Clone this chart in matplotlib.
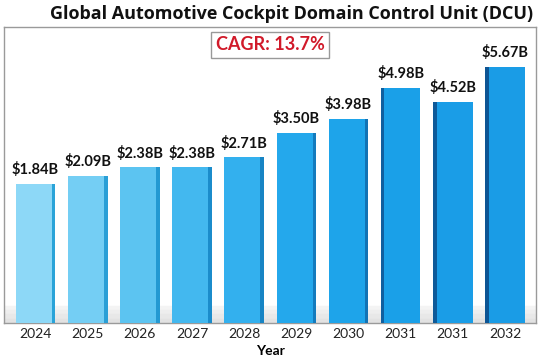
import matplotlib
matplotlib.use("Agg")
import matplotlib.pyplot as plt

years = ["2024", "2025", "2026", "2027", "2028", "2029", "2030", "2031", "2031", "2032"]
values = [1.84, 2.09, 2.38, 2.38, 2.71, 3.50, 3.98, 4.98, 4.52, 5.67]
labels = ["$1.84B", "$2.09B", "$2.38B", "$2.38B", "$2.71B", "$3.50B", "$3.98B", "$4.98B", "$4.52B", "$5.67B"]
title = "Global Automotive Cockpit Domain Control Unit (DCU)"
cagr_text = "CAGR: 13.7%"

colors = ["#8dd8f7", "#74cef4", "#5cc4f1", "#43b8ef", "#33b0ee", "#24a8ec",
          "#1ea4ea", "#1aa0e8", "#1a9de7", "#1a9ce6"]
side_colors = ["#2aa3d8", "#2a9fd6", "#2399d2", "#1b8ccb", "#1784c4", "#147bbd",
               "#1273b5", "#0f5f9f", "#0e5a99", "#0d5594"]

plt.rcParams['font.family'] = ['Lato', 'DejaVu Sans']

fig = plt.figure(figsize=(5.4, 3.6), dpi=100)
ax = fig.add_axes([0.008, 0.103, 0.985, 0.822])

ylo, yhi = -2.72, 6.98
x = list(range(len(years)))
w = 0.76
ax.bar(x, [v - ylo for v in values], bottom=ylo, width=w, color=colors, zorder=3)

# side faces for 3D look
for i, (xi, v) in enumerate(zip(x, values)):
    sw = 0.07
    sx = xi + w / 2 - sw if i < 7 else xi - w / 2
    ax.bar(sx, v - ylo, bottom=ylo, width=sw, align='edge', color=side_colors[i], zorder=4)

# floor shadow (soft)
shades = ["#f4f4f4", "#eeeeee", "#e8e8e8", "#e2e2e2"]
step = 0.14
for k, c in enumerate(shades):
    ax.axhspan(ylo, ylo + 0.56 - k * step, color=c, zorder=1 + k * 0.1)

for xi, v, lab in zip(x, values, labels):
    ax.text(xi, v + 0.22, lab, ha='center', va='bottom', fontsize=10.5,
            fontweight='bold', color='#111111', zorder=5)

ax.set_xlim(-0.6, len(years) - 0.4)
ax.set_ylim(ylo, yhi)
ax.set_xticks(x)
ax.set_xticklabels(years, fontsize=10, color='#222222')
ax.tick_params(axis='x', length=0, pad=4)
ax.set_yticks([])
for s in ax.spines.values():
    s.set_color('#9a9a9a')
    s.set_linewidth(1.0)
ax.set_xlabel("Year", fontsize=10, fontweight='bold', labelpad=3)

fig.text(0.987, 0.962, title, ha='right', va='center', fontsize=13,
         fontweight='bold', color='#111111', family=['Open Sans', 'DejaVu Sans'])

ax.text(0.5, 0.94, cagr_text, transform=ax.transAxes, ha='center', va='center',
        fontsize=13, fontweight='bold', color='#d11a2a', zorder=6,
        bbox=dict(boxstyle='square,pad=0.25', facecolor='white', edgecolor='#999999', linewidth=1))

fig.savefig("out.png", dpi=100)
